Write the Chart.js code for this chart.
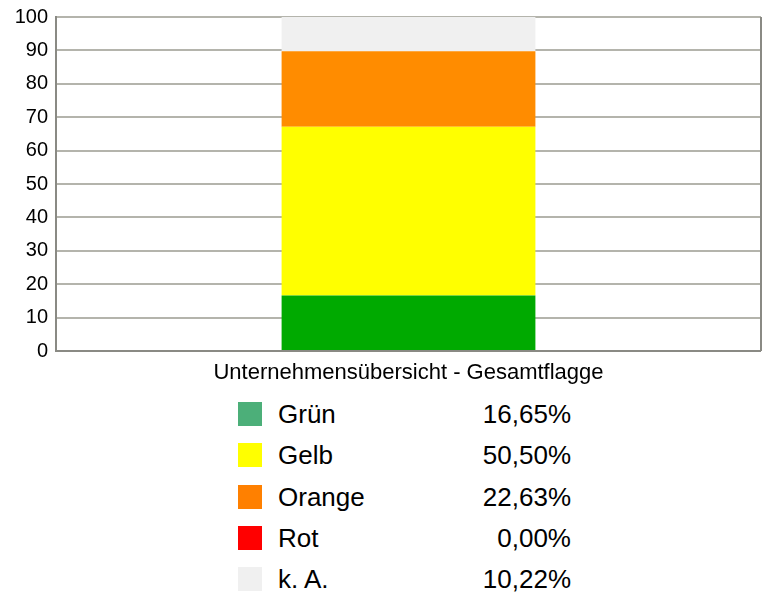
<!DOCTYPE html>
<html>
<head>
<meta charset="utf-8">
<script src="https://cdn.jsdelivr.net/npm/chart.js@4"></script>
<style>
  body { margin: 0; background: #fff; font-family: "Liberation Sans", Arial, sans-serif; }
  #wrap { position: relative; width: 766px; height: 392px; }
  #legend { position: absolute; left: 0; top: 394px; width: 766px; }
  .row { position: relative; height: 41.3px; font-size: 26px; color: #000; }
  .sw { position: absolute; left: 238px; top: 8px; width: 24px; height: 24px; }
  .lbl { position: absolute; left: 278px; top: 5px; line-height: 30px; }
  .val { position: absolute; right: 195px; top: 5px; line-height: 30px; text-align: right; }
</style>
</head>
<body>
<div id="wrap"><canvas id="chart"></canvas></div>
<div id="legend"></div>
<script>
const categories = ["Unternehmensübersicht - Gesamtflagge"];
const seriesNames = ["Grün", "Gelb", "Orange", "Rot", "k. A."];
const seriesValues = [16.65, 50.50, 22.63, 0.00, 10.22];
const barColors = ["#00aa00", "#ffff00", "#ff8c00", "#ff0000", "#f0f0f0"];
const legendColors = ["#4caf79", "#ffff00", "#ff8000", "#ff0000", "#f0f0f0"];
const yTicks = [0, 10, 20, 30, 40, 50, 60, 70, 80, 90, 100];

// frame around the plot area
const framePlugin = {
  id: "frame",
  afterDraw(chart) {
    const a = chart.chartArea;
    const ctx = chart.ctx;
    ctx.save();
    ctx.strokeStyle = "#8a8a84";
    ctx.lineWidth = 2;
    ctx.beginPath();
    ctx.moveTo(a.right, a.top);
    ctx.lineTo(a.right, a.bottom);
    ctx.stroke();
    ctx.beginPath();
    ctx.moveTo(a.left, a.bottom);
    ctx.lineTo(a.right, a.bottom);
    ctx.stroke();
    ctx.restore();
  }
};

function buildData() {
  return {
    labels: categories,
    datasets: seriesNames.map((name, i) => ({
      label: name,
      data: [seriesValues[i]],
      backgroundColor: barColors[i],
      borderWidth: 0,
      categoryPercentage: 1,
      barPercentage: 0.36,
    })),
  };
}

new Chart(document.getElementById("chart"), {
  type: "bar",
  data: buildData(),
  options: {
    responsive: true,
    maintainAspectRatio: false,
    animation: false,
    layout: { padding: { top: 17, right: 5, left: 0, bottom: 0 } },
    plugins: { legend: { display: false }, tooltip: { enabled: false } },
    scales: {
      x: {
        stacked: true,
        grid: { display: false },
        border: { display: false },
        ticks: { color: "#000", padding: 1, font: { family: "Liberation Sans", size: 22 } },
        afterFit(scale) { scale.height = 41; },
      },
      y: {
        stacked: true,
        min: 0,
        max: 100,
        afterBuildTicks(scale) { scale.ticks = yTicks.map(v => ({ value: v })); },
        grid: { color: "#b4b4ac", lineWidth: 2, drawTicks: false },
        border: { color: "#8a8a84", width: 2 },
        ticks: { color: "#000", padding: 8, font: { family: "Liberation Sans", size: 20 } },
        afterFit(scale) {
          scale.width = 56;
          scale.paddingTop = 0;
          scale.paddingBottom = 0;
        },
      },
    },
  },
  plugins: [framePlugin],
});

const legend = document.getElementById("legend");
seriesNames.forEach((name, i) => {
  const row = document.createElement("div");
  row.className = "row";
  row.innerHTML =
    '<div class="sw" style="background:' + legendColors[i] + '"></div>' +
    '<span class="lbl">' + name + '</span>' +
    '<span class="val">' + seriesValues[i].toFixed(2).replace(".", ",") + '%</span>';
  legend.appendChild(row);
});
</script>
</body>
</html>
